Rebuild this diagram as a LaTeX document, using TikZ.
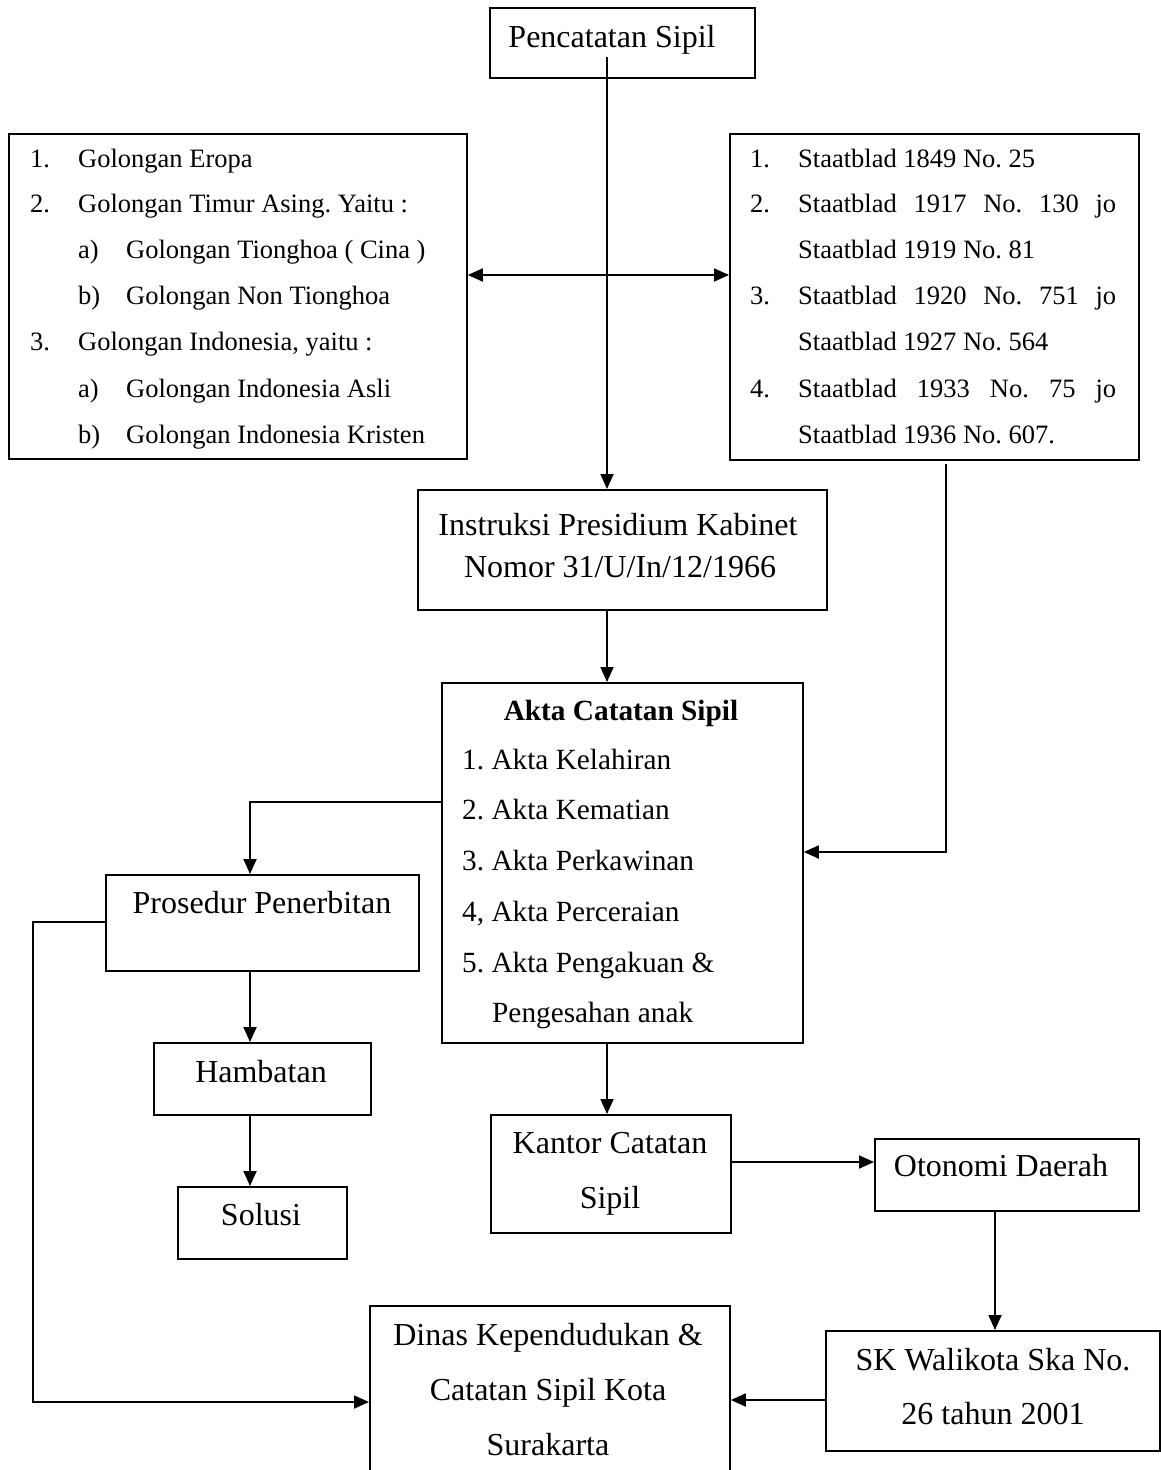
\documentclass[tikz,border=0pt]{standalone}
\usepackage{fontspec}
\setmainfont{Liberation Serif}
\usetikzlibrary{arrows.meta}
\frenchspacing
\begin{document}
\begin{tikzpicture}[x=1pt,y=-1pt,
  frame/.style={draw, line width=1.8pt, inner sep=0pt, anchor=north west},
  conn/.style={line width=1.8pt},
  arr/.style={conn, -{Triangle[length=15pt,width=13pt]}},
  dblarr/.style={conn, {Triangle[length=15pt,width=13pt]}-{Triangle[length=15pt,width=13pt]}},
  big/.style={font=\fontsize{32}{38}\selectfont, inner sep=0pt, anchor=base},
  lst/.style={font=\fontsize{26.5}{32}\selectfont, inner sep=0pt, anchor=base west},
  akt/.style={font=\fontsize{29.3}{35}\selectfont, inner sep=0pt, anchor=base west}]
\useasboundingbox (0,0) rectangle (1161,1470);
\clip (0,0) rectangle (1161,1470);

% ---------- boxes ----------
\node[frame, minimum width=265pt, minimum height=70pt] (pc) at (489,7) {};
\node[frame, minimum width=458pt, minimum height=325pt] (gol) at (8,133) {};
\node[frame, minimum width=409pt, minimum height=326pt] (stb) at (729,133) {};
\node[frame, minimum width=409pt, minimum height=120pt] (instr) at (417,489) {};
\node[frame, minimum width=361pt, minimum height=360pt] (akta) at (441,682) {};
\node[frame, minimum width=313pt, minimum height=96pt] (pros) at (105,874) {};
\node[frame, minimum width=217pt, minimum height=72pt] (hamb) at (153,1042) {};
\node[frame, minimum width=169pt, minimum height=72pt] (sol) at (177,1186) {};
\node[frame, minimum width=240pt, minimum height=118pt] (kantor) at (490,1114) {};
\node[frame, minimum width=264pt, minimum height=72pt] (oto) at (874,1138) {};
\node[frame, minimum width=334pt, minimum height=120pt] (sk) at (825,1330) {};
\node[frame, minimum width=360pt, minimum height=200pt] (dinas) at (369,1305) {};

% ---------- texts ----------
\node[big] (pcT) at (612,47) {Pencatatan Sipil};

\node[lst] (g1n) at (30,167) {1.};  \node[lst] (g1) at (78,167) {Golongan Eropa};
\node[lst] (g2n) at (30,212) {2.};  \node[lst] (g2) at (78,212) {Golongan Timur Asing. Yaitu :};
\node[lst] (g2an) at (78,258) {a)}; \node[lst] (g2a) at (126,258) {Golongan Tionghoa ( Cina )};
\node[lst] (g2bn) at (78,304) {b)}; \node[lst] (g2b) at (126,304) {Golongan Non Tionghoa};
\node[lst] (g3n) at (30,350) {3.};  \node[lst] (g3) at (78,350) {Golongan Indonesia, yaitu :};
\node[lst] (g3an) at (78,397) {a)}; \node[lst] (g3a) at (126,397) {Golongan Indonesia Asli};
\node[lst] (g3bn) at (78,443) {b)}; \node[lst] (g3b) at (126,443) {Golongan Indonesia Kristen};

\node[lst] (s1n) at (750,167) {1.}; \node[lst] (s1) at (798,167) {Staatblad 1849 No. 25};
\node[lst] (s2n) at (750,212) {2.}; \node[lst] (s2) at (798,212) {\makebox[318pt][s]{Staatblad 1917 No. 130 jo}};
\node[lst] (s2b) at (798,258) {Staatblad 1919 No. 81};
\node[lst] (s3n) at (750,304) {3.}; \node[lst] (s3) at (798,304) {\makebox[318pt][s]{Staatblad 1920 No. 751 jo}};
\node[lst] (s3b) at (798,350) {Staatblad 1927 No. 564};
\node[lst] (s4n) at (750,397) {4.}; \node[lst] (s4) at (798,397) {\makebox[318pt][s]{Staatblad 1933 No. 75 jo}};
\node[lst] (s4b) at (798,443) {Staatblad 1936 No. 607.};

\node[big] (inT1) at (618,535) {Instruksi Presidium Kabinet};
\node[big] (inT2) at (620,577) {Nomor 31/U/In/12/1966};

\node[akt, anchor=base] (akT) at (621,720) {\bfseries Akta Catatan Sipil};
\node[akt] (ak1) at (462,769) {1. Akta Kelahiran};
\node[akt] (ak2) at (462,819) {2. Akta Kematian};
\node[akt] (ak3) at (462,870) {3. Akta Perkawinan};
\node[akt] (ak4) at (462,921) {4, Akta Perceraian};
\node[akt] (ak5) at (462,972) {5. Akta Pengakuan \&};
\node[akt] (ak6) at (492,1022) {Pengesahan anak};

\node[big] (prT) at (262,913) {Prosedur Penerbitan};
\node[big] (haT) at (261,1082) {Hambatan};
\node[big] (soT) at (261,1225) {Solusi};
\node[big] (kaT1) at (610,1153) {Kantor Catatan};
\node[big] (kaT2) at (610,1208) {Sipil};
\node[big] (otT) at (1001,1176) {Otonomi Daerah};
\node[big] (skT1) at (993,1370) {SK Walikota Ska No.};
\node[big] (skT2) at (993,1424) {26 tahun 2001};
\node[big] (diT1) at (548,1345) {Dinas Kependudukan \&};
\node[big] (diT2) at (548,1400) {Catatan Sipil Kota};
\node[big] (diT3) at (548,1455) {Surakarta};

% ---------- connectors ----------
\coordinate (spine) at (607,57);
\coordinate (cross) at (0,275);
\coordinate (stbOut) at (946,464);
\coordinate (aktaIn) at (0,852);
\coordinate (aktaOut) at (0,802);
\coordinate (leftCol) at (250,0);
\coordinate (prosOut) at (0,922);
\coordinate (leftRail) at (33,1402);
\coordinate (kanOut) at (0,1162);
\coordinate (otoCol) at (995,0);
\coordinate (skOut) at (0,1400);

\draw[arr] (spine) -- (spine |- instr.north);
\draw[dblarr] (gol.east |- cross) -- (stb.west |- cross);
\draw[arr] (instr.south -| spine) -- (akta.north -| spine);
\draw[arr] (stbOut) |- (akta.east |- aktaIn);
\draw[arr] (akta.west |- aktaOut) -| (pros.north -| leftCol);
\draw[arr] (pros.south -| leftCol) -- (hamb.north -| leftCol);
\draw[arr] (hamb.south -| leftCol) -- (sol.north -| leftCol);
\draw[arr] (pros.west |- prosOut) -| (leftRail) -- (dinas.west |- leftRail);
\draw[arr] (akta.south -| spine) -- (kantor.north -| spine);
\draw[arr] (kantor.east |- kanOut) -- (oto.west |- kanOut);
\draw[arr] (oto.south -| otoCol) -- (sk.north -| otoCol);
\draw[arr] (sk.west |- skOut) -- (dinas.east |- skOut);
\end{tikzpicture}
\end{document}
